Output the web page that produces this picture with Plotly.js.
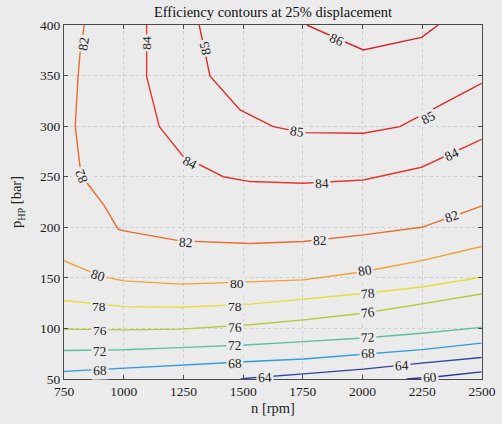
<!DOCTYPE html>
<html><head><meta charset="utf-8">
<script src="https://cdn.plot.ly/plotly-3.0.1.min.js"></script>
<style>html,body{margin:0;padding:0;background:#ebebeb;}</style>
</head><body><div id="chart" style="width:502px;height:424px;"></div>
<script>
// Contour levels (efficiency %)
const levels = [60, 64, 68, 72, 76, 78, 80, 82, 84, 85, 86];
// Each contour: speed n [rpm] and pressure p [bar]
const c60n = [2184, 2300, 2498];
const c60p = [50, 52, 57];
const c64n = [1490, 1529, 1752, 2003, 2247, 2498];
const c64p = [50, 51, 55.1, 59.8, 65.7, 71.3];
const c68n = [750, 1001, 1236, 1529, 1752, 2003, 2247, 2498];
const c68p = [57.5, 60.8, 64, 67.3, 69.7, 74.3, 79, 85.5];
const c72n = [750, 1001, 1236, 1529, 1752, 2003, 2247, 2498];
const c72p = [78.2, 78.9, 81, 83.8, 87, 90.5, 95.3, 101];
const c76n = [750, 1001, 1236, 1375, 1529, 1752, 2003, 2247, 2498];
const c76p = [99.3, 98.6, 99.3, 101, 103.6, 108.5, 115, 124.3, 134];
const c78n = [750, 1001, 1236, 1375, 1529, 1752, 2003, 2247, 2498];
const c78p = [127.6, 121.6, 121, 122.3, 124, 129, 134.5, 141, 150.6];
const c80n = [750, 900, 1001, 1236, 1375, 1529, 1752, 2003, 2247, 2498];
const c80p = [167, 152, 147, 143.8, 144.8, 146, 148, 156, 167, 181];
const c82n = [835, 817, 809, 797, 817, 846, 917, 977, 1001, 1236, 1529, 1752, 2003, 2247, 2498];
const c82p = [400, 372, 349, 300, 260, 244, 222, 198, 196.4, 186.6, 184, 186, 192.5, 200, 221];
const c84n = [1096, 1096, 1149, 1249, 1417, 1529, 1752, 2003, 2247, 2498];
const c84p = [400, 349, 299.5, 270, 250, 245.2, 243.6, 246.8, 259.4, 287];
const c85n = [1316, 1361, 1487, 1529, 1626, 1752, 2003, 2156, 2498];
const c85p = [400, 349.6, 316, 311, 299.5, 293.6, 293, 299.5, 342.4];
const c86n = [1766, 2003, 2247, 2317];
const c86p = [400, 375.3, 387.8, 400];

// Inline contour labels
const labelLevel = [82, 84, 85, 82, 84, 86, 85, 85, 84, 84, 82, 82, 82, 80, 80, 80, 78, 78, 78, 76, 76, 76, 72, 72, 72, 68, 68, 68, 64, 64, 60];
const labelN = [831, 1096, 1340, 821, 1277, 1891, 1724, 2275, 1829, 2373, 1262, 1822, 2373, 894, 1473, 2010, 898, 1466, 2024, 901, 1466, 2024, 901, 1466, 2024, 901, 1466, 2024, 1591, 2163, 2282];
const labelP = [382, 382, 377, 250.5, 264, 386, 294.6, 309, 243.6, 271.5, 184.7, 186.5, 210.6, 152, 144, 157, 122, 122, 135, 98, 101.3, 115.7, 77.2, 83, 91, 58.5, 65.7, 75, 51, 63.3, 51];
const labelAngle = [-81, -90, -102, -112, 27, 24, 8, -28, -2, -25, 3, -3, -19, 18, 0, -9, 0, 0, -6, 0, -2, -8, -1, -1, -4, -2, -2, -5, -3, -4, -5];

const colors = {60: '#28338f', 64: '#3241a8', 68: '#2f9be0', 72: '#5cbf9f', 76: '#b5c93a', 78: '#e8dc3a', 80: '#f0a030', 82: '#ec6a2c', 84: '#e6372b', 85: '#e02b26', 86: '#d82026'};
const series = {60: [c60n, c60p], 64: [c64n, c64p], 68: [c68n, c68p], 72: [c72n, c72p], 76: [c76n, c76p], 78: [c78n, c78p], 80: [c80n, c80p], 82: [c82n, c82p], 84: [c84n, c84p], 85: [c85n, c85p], 86: [c86n, c86p]};

const BG = '#ebebeb';
const FONT = 'Liberation Serif, Times New Roman, serif';

const traces = levels.map(l => ({
  type: 'scatter', mode: 'lines',
  x: series[l][0], y: series[l][1],
  line: {color: colors[l], width: 1.4},
  hoverinfo: 'skip', showlegend: false
}));

const annotations = labelLevel.map((l, i) => ({
  x: labelN[i], y: labelP[i], xref: 'x', yref: 'y',
  text: String(l), showarrow: false, textangle: labelAngle[i],
  xanchor: 'center', yanchor: 'middle',
  font: {family: FONT, size: 13.5, color: '#222'},
  bgcolor: BG, borderpad: 1
}));

const axisCommon = {
  showline: true, linecolor: '#4a4a4a', linewidth: 1, mirror: 'ticks',
  ticks: 'inside', ticklen: 4, tickcolor: '#4a4a4a',
  showgrid: true, gridcolor: '#cdcdcd', griddash: '3px,3px', gridwidth: 1,
  zeroline: false,
  tickfont: {family: FONT, size: 13.5, color: '#222'}
};

const layout = {
  width: 502, height: 424,
  paper_bgcolor: BG, plot_bgcolor: BG,
  margin: {l: 64, r: 20, t: 25, b: 45},
  title: {text: 'Efficiency contours at 25% displacement', font: {family: FONT, size: 14.5, color: '#111'},
          xref: 'paper', x: 0.5, xanchor: 'center', yref: 'container', y: 0.972, yanchor: 'middle'},
  xaxis: Object.assign({}, axisCommon, {
    range: [750, 2500], tickvals: [750, 1000, 1250, 1500, 1750, 2000, 2250, 2500],
    title: {text: 'n [rpm]', font: {family: FONT, size: 14.5, color: '#222'}, standoff: 4}
  }),
  yaxis: Object.assign({}, axisCommon, {
    range: [50, 400], tickvals: [50, 100, 150, 200, 250, 300, 350, 400],
    title: {text: 'p<sub>HP</sub> [bar]', font: {family: FONT, size: 14.5, color: '#222'}, standoff: 14}
  }),
  annotations: annotations
};

Plotly.newPlot('chart', traces, layout, {displayModeBar: false, staticPlot: true});
</script>
</body></html>
